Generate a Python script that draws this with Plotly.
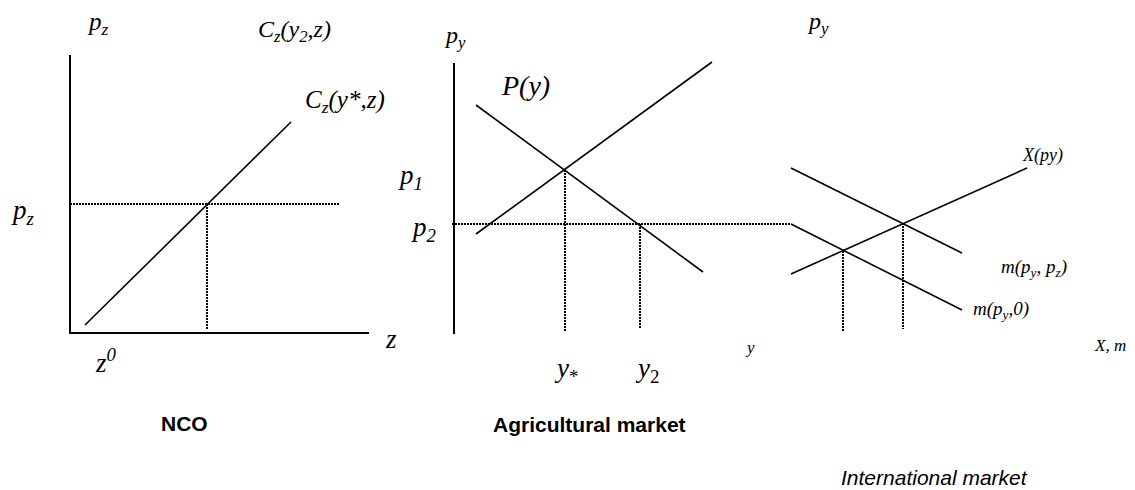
import plotly.graph_objects as go

# ---- Diagram data (diagram units; y grows downward) ----
# Panel 1: NCO
nco_axis_x = [70, 70, 369]
nco_axis_y = [55, 333, 333]
nco_cost_x = [85, 291]
nco_cost_y = [325, 122]
nco_pz_h_x = [70, 339]
nco_pz_h_y = [204, 204]
nco_pz_v_x = [207, 207]
nco_pz_v_y = [204, 330]

# Panel 2: Agricultural market
agr_axis_x = [454, 454]
agr_axis_y = [63, 334]
agr_demand_x = [476, 703]
agr_demand_y = [105, 272]
agr_supply_x = [476, 712]
agr_supply_y = [234, 62]
agr_p2_x = [452, 791]
agr_p2_y = [224, 224]
agr_ystar_x = [565, 565]
agr_ystar_y = [170, 332]
agr_y2_x = [640, 640]
agr_y2_y = [224, 329]

# Panel 3: International market
int_m_pz_x = [791, 962]
int_m_pz_y = [168, 253]
int_m_0_x = [791, 962]
int_m_0_y = [224, 310]
int_X_x = [791, 1027]
int_X_y = [274, 168]
int_v1_x = [843, 843]
int_v1_y = [251, 332]
int_v2_x = [903, 903]
int_v2_y = [223, 329]

solid = [
    (nco_axis_x, nco_axis_y, 2),
    (nco_cost_x, nco_cost_y, 1.6),
    (agr_axis_x, agr_axis_y, 2),
    (agr_demand_x, agr_demand_y, 1.6),
    (agr_supply_x, agr_supply_y, 1.6),
    (int_m_pz_x, int_m_pz_y, 1.6),
    (int_m_0_x, int_m_0_y, 1.6),
    (int_X_x, int_X_y, 1.6),
]
dotted = [
    (nco_pz_h_x, nco_pz_h_y),
    (nco_pz_v_x, nco_pz_v_y),
    (agr_p2_x, agr_p2_y),
    (agr_ystar_x, agr_ystar_y),
    (agr_y2_x, agr_y2_y),
    (int_v1_x, int_v1_y),
    (int_v2_x, int_v2_y),
]

SERIF = "Liberation Serif"
SANS = "Liberation Sans"

# label text, x, y, size, font
labels = [
    ("<i>p<sub>z</sub></i>", 85, 23, 25, SERIF),
    ("<i>C<sub>z</sub>(y<sub>2</sub>,z)</i>", 256, 31, 24, SERIF),
    ("<i>C<sub>z</sub>(y*,z)</i>", 303, 101, 25, SERIF),
    ("<i>p<sub>z</sub></i>", 9, 212, 27, SERIF),
    ("<i>z</i>", 383, 339, 27, SERIF),
    ("<i>z<sup>0</sup></i>", 93, 361, 27, SERIF),
    ("<b>NCO</b>", 159, 423, 21, SANS),
    ("<i>p<sub>y</sub></i>", 442, 37, 24, SERIF),
    ("<i>P(y)</i>", 499, 85, 28, SERIF),
    ("<i>p<sub>1</sub></i>", 396, 177, 27, SERIF),
    ("<i>p<sub>2</sub></i>", 409, 229, 27, SERIF),
    ("<i>y</i>", 743, 347, 17, SERIF),
    ("<i>y</i><sub>*</sub>", 552, 370, 27, SERIF),
    ("<i>y</i><sub>2</sub>", 633, 370, 27, SERIF),
    ("<b>Agricultural market</b>", 491, 424, 21, SANS),
    ("<i>p<sub>y</sub></i>", 805, 23, 24, SERIF),
    ("<i>X(py)</i>", 1020, 155, 18, SERIF),
    ("<i>m(p<sub>y</sub>, p<sub>z</sub>)</i>", 999, 268, 19, SERIF),
    ("<i>m(p<sub>y</sub>,0)</i>", 971, 310, 19, SERIF),
    ("<i>X, m</i>", 1092, 345, 17, SERIF),
    ("<i>International market</i>", 839, 477, 21, SANS),
]

fig = go.Figure()
for xs, ys, w in solid:
    fig.add_trace(go.Scatter(x=xs, y=ys, mode="lines",
                             line=dict(color="black", width=w),
                             hoverinfo="skip", showlegend=False))
for xs, ys in dotted:
    fig.add_trace(go.Scatter(x=xs, y=ys, mode="lines",
                             line=dict(color="black", width=2, dash="2px,1px"),
                             hoverinfo="skip", showlegend=False))

for text, x, y, size, fam in labels:
    fig.add_annotation(x=x, y=y, text=text, showarrow=False,
                       xanchor="left", yanchor="middle",
                       font=dict(family=fam, size=size, color="black"))

# page body has an 8px margin: shift ranges so diagram units map onto
# window pixels, keeping the figure inside the window's width
OFF = 8
W, H = 1135 - 2 * OFF, 490
fig.update_layout(
    width=W, height=H,
    margin=dict(l=0, r=0, t=0, b=0),
    paper_bgcolor="white", plot_bgcolor="white",
    xaxis=dict(range=[OFF, W + OFF], visible=False, fixedrange=True),
    yaxis=dict(range=[H + OFF, OFF], visible=False, fixedrange=True),
)
fig.write_html("out.html")
